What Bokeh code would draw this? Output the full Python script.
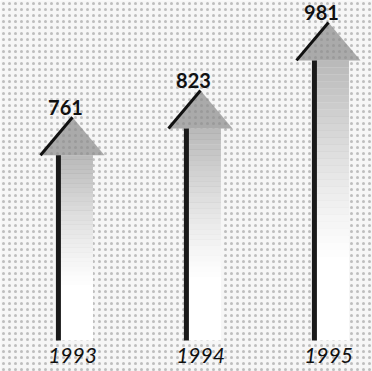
import numpy as np
from bokeh.plotting import figure
from bokeh.models import Range1d, BoxAnnotation, ColumnDataSource
from bokeh.core.properties import value
from bokeh.embed import file_html
from bokeh.resources import INLINE

# ---- data ----
years = ["1993", "1994", "1995"]
totals = [761, 823, 981]
value_labels = ["761", "823", "981"]

# ---- layout constants ----
BASE = 243          # value at which the arrow shafts start
HEAD_H = 88         # arrow head height in data units
HEAD_HW = 0.25      # arrow head half width (category units)
SHAFT_DX = -0.11    # shaft offset from category centre
BODY_R = 0.16       # right edge of arrow body

xs = np.arange(len(years), dtype=float)

p = figure(width=372, height=371, x_range=Range1d(-0.5625, 2.34375),
           y_range=Range1d(171, 1032), output_backend="svg",
           toolbar_location=None, min_border=0,
           x_axis_type=None, y_axis_type=None)
p.grid.visible = False
p.outline_line_color = None
p.background_fill_color = "#f6f6f6"
p.border_fill_color = "#f6f6f6"

# speckled scan texture
p.add_layout(BoxAnnotation(fill_color="#f6f6f6", fill_alpha=1.0, line_color=None,
                           hatch_pattern="dot", hatch_color="#3a3a3a",
                           hatch_alpha=0.3, hatch_scale=6, level="underlay"))

# white arrow bodies
body_src = ColumnDataSource(dict(left=xs + SHAFT_DX, right=xs + BODY_R,
                                 top=np.array(totals) - HEAD_H,
                                 bottom=[BASE] * len(xs)))
p.quad(left="left", right="right", top="top", bottom="bottom", source=body_src,
       fill_color="white", line_color=None)

# grey fading shading on the bodies
N = 40
gl, gr, gt, gb, ga = [], [], [], [], []
for xi, v in zip(xs, totals):
    top = v - HEAD_H
    span = top - BASE
    for k in range(N):
        t0 = k / N
        t1 = (k + 1) / N
        a = 0.6 * max(0.0, 1 - (t0 / 0.72)) ** 1.3
        gl.append(xi + SHAFT_DX)
        gr.append(xi + BODY_R)
        gt.append(top - t0 * span)
        gb.append(top - t1 * span - 0.5)
        ga.append(a)
p.quad(left=gl, right=gr, top=gt, bottom=gb, fill_color="#8c8c8c",
       fill_alpha=ga, line_color=None)

# arrow heads
head_xs = [[xi - HEAD_HW, xi, xi + HEAD_HW] for xi in xs]
head_ys = [[v - HEAD_H, v, v - HEAD_H] for v in totals]
p.patches(head_xs, head_ys, fill_color="#8a8a8a", fill_alpha=0.7, line_color=None)

# dark left edge of the heads
p.segment(x0=xs - HEAD_HW, y0=np.array(totals) - HEAD_H, x1=xs, y1=totals,
          line_color="#111111", line_width=3)

# shafts
p.segment(x0=xs + SHAFT_DX, y0=[BASE] * len(xs), x1=xs + SHAFT_DX,
          y1=np.array(totals) - HEAD_H, line_color="#1a1a1a", line_width=5)

# value labels
p.text(x=xs - 0.055, y=totals, text=value_labels, text_align="center",
       text_baseline="alphabetic", y_offset=-10, text_font=value("Lato"),
       text_font_style="bold", text_font_size="20px", text_color="#111111")

# year labels
p.text(x=xs, y=[BASE] * len(xs), text=years, text_align="center",
       text_baseline="middle", y_offset=15, text_font=value("Lato"),
       text_font_style="italic", text_font_size="21px", text_color="#111111")

open("out.html", "w").write(file_html(p, INLINE))
